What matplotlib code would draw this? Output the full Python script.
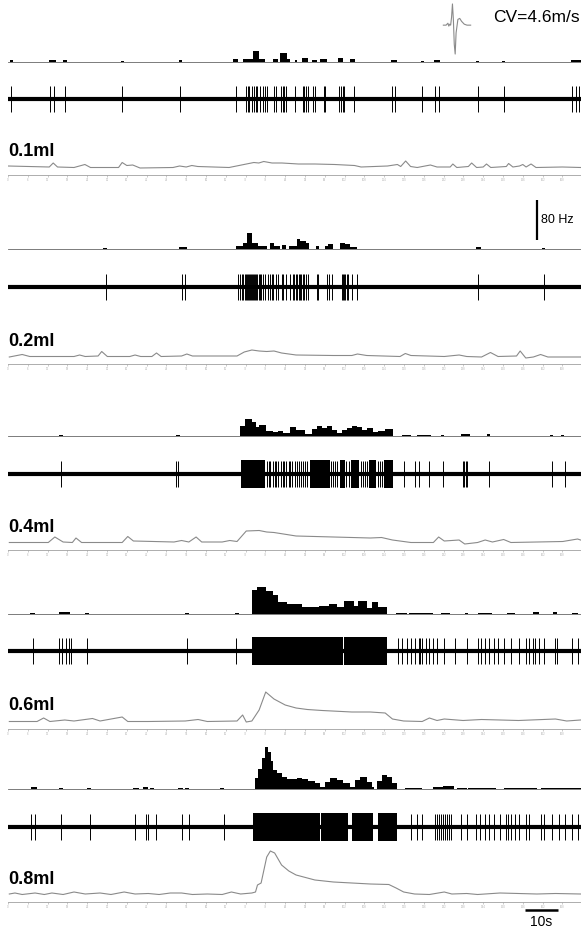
import numpy as np
import matplotlib
matplotlib.use('Agg')
import matplotlib.pyplot as plt

W, H = 581, 930

#======== Data =============================================#
# time axis in seconds, rate in Hz, pressure in (arbitrary) px units

doses = ['0.1ml', '0.2ml', '0.4ml', '0.6ml', '0.8ml']

# --- firing-rate histograms (bin edges [s], rate [Hz]) ---
hist_edges_01 = [0.5, 1.5, 12.5, 14.5, 16.8, 17.8, 34.2, 35.2, 51.7, 52.7, 68.3, 69.8, 71.3, 74.3, 76.2,
                 77.9, 80.4, 81.9, 82.4, 84.6, 85.5, 87.0, 87.7, 89.0, 91.0, 92.0, 93.5, 94.5, 96.6,
                 100.1, 101.6, 103.6, 105.2, 116.0, 117.8, 125.0, 126.0, 129.0, 131.0, 141.8, 142.8,
                 149.7, 150.7, 170.5, 173.5]
hist_hz_01 = [3, 0, 3, 0, 3, 0, 2, 0, 3, 0, 5, 0, 5, 22, 5, 0, 5, 0, 17, 5, 0, 3, 0, 7, 0, 3, 0, 5, 0, 7,
              0, 6, 0, 3, 0, 2, 0, 3, 0, 2, 0, 2, 0, 3]

hist_edges_02 = [28.8, 30.0, 51.8, 54.2, 69.1, 71.3, 72.3, 73.8, 75.9, 78.4, 79.4, 80.6, 82.4, 83.0, 84.2,
                 85.0, 87.5, 88.5, 90.3, 91.2, 93.3, 94.3, 96.0, 97.0, 98.4, 100.6, 102.0, 103.6, 105.8,
                 141.8, 143.2, 161.8, 162.8]
hist_hz_02 = [2, 0, 4, 0, 5, 11, 31, 11, 5, 0, 12, 5, 0, 7, 0, 5, 19, 15, 11, 0, 5, 0, 5, 9, 0, 12, 9, 4,
              0, 4, 0, 2]

hist_edges_04 = [15.6, 16.6, 50.9, 52.0, 70.3, 71.8, 73.8, 75.1, 76.2, 78.2, 80.4, 81.9, 83.4, 85.5, 87.3,
                 88.5, 90.0, 92.0, 93.5, 95.1, 96.6, 98.1, 99.6, 101.1, 102.6, 104.1, 105.7, 107.2, 108.7,
                 110.5, 112.2, 114.2, 116.8, 119.5, 122.1, 123.8, 128.3, 131.2, 132.2, 137.3, 140.1,
                 145.2, 146.2, 164.3, 165.3, 167.6, 168.6]
hist_hz_04 = [2, 0, 2, 0, 20, 33, 27, 17, 22, 9, 7, 9, 5, 17, 11, 12, 4, 13, 20, 15, 19, 11, 5, 11, 15, 20,
              17, 11, 15, 7, 9, 13, 0, 2, 0, 2, 0, 2, 0, 4, 0, 3, 0, 2, 0, 2]

hist_edges_06 = [6.6, 8.2, 15.5, 18.9, 23.4, 24.5, 53.7, 54.8, 68.8, 69.9, 73.9, 75.6, 78.1, 80.4, 81.9,
                 84.5, 89.0, 94.1, 97.4, 99.7, 101.9, 104.7, 106.2, 108.7, 110.3, 112.0, 114.8, 117.6,
                 121.0, 121.6, 128.9, 131.1, 133.9, 138.4, 139.5, 142.3, 146.8, 151.3, 153.5, 159.1,
                 160.8, 165.3, 166.4, 171.0, 172.6]
hist_hz_06 = [2, 0, 4, 0, 2, 0, 2, 0, 2, 0, 48, 55, 47, 38, 25, 21, 15, 16, 20, 15, 27, 16, 27, 13, 25, 15,
              0, 2, 0, 2, 0, 2, 0, 3, 0, 2, 0, 2, 0, 4, 0, 4, 0, 3]

hist_edges_08 = [7.1, 8.8, 15.5, 16.7, 24.0, 25.0, 38.0, 39.7, 40.8, 42.5, 43.0, 44.1, 51.4, 53.1, 53.7,
                 54.8, 64.3, 65.5, 74.8, 75.9, 76.9, 77.9, 78.9, 79.6, 80.4, 81.4, 82.9, 84.4, 87.5, 89.0,
                 91.0, 93.0, 94.5, 96.1, 97.6, 99.6, 101.6, 103.6, 105.1, 106.7, 108.7, 110.2, 110.9,
                 111.9, 113.2, 114.7, 116.3, 117.8, 120.4, 125.5, 128.9, 131.7, 135.0, 136.2, 139.0,
                 139.5, 148.0, 150.2, 160.3, 161.4, 173.5]
hist_hz_08 = [4, 0, 3, 0, 3, 0, 2, 0, 4, 0, 2, 0, 2, 0, 2, 0, 2, 0, 22, 40, 62, 84, 75, 57, 39, 32, 24, 20,
              23, 20, 17, 12, 5, 15, 22, 19, 12, 4, 19, 25, 15, 5, 0, 17, 29, 25, 13, 0, 2, 0, 5, 6, 0,
              2, 0, 1.5, 0, 2, 0, 1.5]

# --- single-unit spike times [s] and dense burst blocks [s] ---
spikes_01 = [0.9, 12.7, 13.8, 17.2, 34.6, 52.2, 69.1, 72.1, 72.6, 73.1, 73.8, 74.5, 75.2, 75.6, 76.4,
             77.2, 77.9, 78.4, 80.6, 81.2, 82.6, 83.2, 83.7, 84.2, 87.0, 89.3, 89.7, 90.3, 90.9, 92.5,
             93.0, 95.8, 96.2, 100.4, 100.8, 101.4, 101.8, 104.8, 116.5, 117.4, 125.5, 129.5, 130.6,
             142.3, 150.2, 171.0, 172.0, 173.0]
burst_start_01 = []
burst_end_01 = []

spikes_02 = [29.6, 52.6, 53.7, 69.8, 70.3, 70.8, 71.3, 71.7, 72.1, 72.4, 72.7, 73.0, 73.3, 73.6, 73.9,
             74.2, 74.5, 74.8, 75.2, 75.6, 76.0, 76.4, 76.8, 77.4, 77.9, 78.9, 79.4, 79.9, 80.4, 81.2,
             81.9, 82.9, 83.4, 84.2, 85.5, 86.3, 86.8, 87.3, 87.7, 88.1, 88.5, 88.9, 89.3, 89.7, 90.3,
             91.0, 93.5, 94.0, 96.6, 97.4, 98.1, 101.1, 101.4, 101.8, 102.2, 102.6, 103.1, 104.2,
             105.9, 142.3, 162.5]
burst_start_02 = []
burst_end_02 = []

spikes_04 = [16.1, 50.9, 51.4, 78.4, 79.0, 79.5, 80.2, 80.8, 81.3, 81.9, 82.6, 83.2, 83.7, 84.3, 85.0,
             85.6, 86.2, 86.9, 87.5, 88.2, 88.8, 89.5, 90.0, 90.5, 97.9, 98.5, 99.1, 99.8, 102.5,
             103.2, 107.0, 107.6, 108.3, 108.9, 112.0, 112.6, 113.2, 119.9, 123.2, 124.4, 127.7,
             131.7, 137.8, 138.3, 138.8, 139.2, 145.7, 164.8, 168.7]
burst_start_04 = [70.5, 91.6, 100.5, 104.0, 109.5, 113.8]
burst_end_04 = [77.9, 97.5, 102.0, 106.5, 111.5, 116.6]

spikes_06 = [7.5, 15.5, 16.5, 17.5, 18.5, 19.0, 23.9, 54.2, 69.2, 118.2, 119.3, 121.0, 122.1, 123.3,
             124.4, 124.9, 125.5, 126.6, 127.7, 128.9, 130.0, 132.2, 135.6, 139.0, 142.3, 143.4,
             144.6, 145.7, 147.4, 148.5, 150.2, 152.4, 154.7, 156.9, 158.0, 159.2, 159.7, 160.8,
             162.5, 165.9, 166.4, 170.9, 172.6]
burst_start_06 = [73.9, 90.7, 94.0, 101.7]
burst_end_06 = [90.55, 93.85, 101.55, 114.8]

spikes_08 = [7.1, 8.2, 16.1, 24.8, 38.5, 41.9, 42.5, 44.7, 52.6, 54.8, 65.5, 122.1, 123.8, 125.5, 129.4,
             130.0, 130.5, 131.2, 131.8, 132.5, 133.1, 133.6, 134.2, 137.3, 139.0, 141.8, 142.9, 144.6,
             145.7, 147.4, 149.1, 150.8, 151.5, 152.4, 153.5, 154.7, 156.9, 158.0, 161.4, 162.5,
             164.8, 167.0, 168.7, 170.9, 172.6]
burst_start_08 = [74.2, 94.7, 104.2, 112.0]
burst_end_08 = [94.45, 103.1, 110.7, 117.9]

# --- pressure traces (time [s], height above resting level) ---
press_t_01 = [0, 12.5, 13.7, 15.0, 20.0, 23.3, 25.0, 33.5, 34.6, 36.0, 37.8, 40.0, 50.0, 52.0, 54.0, 55.7,
              57.5, 67.0, 70.0, 74.5, 76.0, 77.5, 80.0, 83.0, 88.0, 93.0, 99.0, 105.0, 107.0, 115.0,
              118.0, 119.0, 120.5, 122.0, 124.0, 128.0, 130.0, 134.0, 134.8, 136.0, 139.5, 140.5,
              142.0, 144.0, 145.0, 146.3, 151.0, 151.7, 153.0, 155.0, 156.0, 157.0, 158.5, 160.0,
              168.0, 173.6]
press_v_01 = [2, 1, 5, 1, 0.5, 3.5, 0.5, 0.5, 5.5, 2.5, 3, 0, 0.5, 2, 1, 2.5, 1.5, 0.5, 2.5, 5.5, 5, 6.5,
              5, 5, 4, 4, 3.5, 2.5, 1, 2, 3.5, 1.5, 7, 1.5, 0.5, 3, 1, 1, 4, 0.5, 1.5, 5, 0.5, 1, 4,
              0.5, 1.5, 4.5, 1, 2, 3.5, 1, 4, 0.5, 1, 0.5]

press_t_02 = [0.4, 4.3, 6.6, 20.0, 21.7, 23.4, 27.3, 28.4, 30.1, 36.9, 38.5, 40.2, 43.6, 45.0, 46.4, 52.6,
              54.2, 55.9, 69.4, 71.6, 73.9, 76.1, 78.4, 80.6, 82.9, 87.3, 98.6, 104.2, 105.9, 108.7,
              118.8, 120.4, 122.1, 132.2, 136.7, 139.0, 143.5, 146.2, 148.5, 154.1, 155.2, 156.9,
              159.2, 161.4, 163.6, 173.5]
press_v_02 = [0, 2.5, 0.5, 0.5, 2, 0.5, 1, 5.5, 0.5, 0.5, 2, 0.5, 0.5, 4, 0.5, 1, 3, 1, 1, 5, 7, 6, 5.5,
              6, 4, 2, 1.5, 1.5, 3, 1.5, 0.5, 3.5, 1.5, 0.5, 2, 0.5, 0, 4.5, 0.5, 1, 6, -1, 0, 2.5, 0, 0]

press_t_04 = [0.4, 12.2, 14.2, 16.7, 19.5, 20.6, 22.3, 34.6, 36.3, 38.0, 50.3, 52.6, 54.8, 57.0, 58.7,
              64.9, 67.2, 69.4, 72.2, 76.1, 78.4, 80.6, 87.3, 93.0, 98.6, 104.2, 109.8, 113.2, 116.5,
              122.1, 128.9, 130.5, 132.2, 136.7, 138.4, 142.3, 144.6, 146.8, 150.2, 152.4, 160.3,
              168.1, 172.6, 173.5]
press_v_04 = [0.5, 0.5, 6, 1, 0.5, 5, 0.5, 0.5, 6.5, 2, 1, 2.5, 1, 6, 1, 1, 2.5, 1.5, 12, 12.5, 11, 10.5,
              7, 6.5, 6, 5.5, 5, 5.5, 3, 0.5, 0.5, 6, 2, 3, -1, 0.5, 3, 1, 3.5, 0.5, 1, 1.5, 4, 3]

press_t_06 = [0.4, 8.8, 10.8, 12.7, 17.2, 20.0, 25.6, 27.9, 34.6, 36.3, 42.5, 53.7, 57.6, 60.4, 69.4,
              71.1, 72.2, 73.9, 76.1, 78.1, 80.6, 84.0, 87.3, 90.7, 95.2, 104.2, 109.8, 114.3, 116.5,
              119.9, 125.5, 127.7, 130.0, 132.2, 137.9, 143.5, 154.7, 165.9, 169.3, 173.5]
press_v_06 = [0.5, 0.5, 4, 0.5, 2, 1, 3.5, 1, 5, 0.5, 0.5, 1, 2.5, 0.5, 1, 7, 0, 1, 12, 30, 23, 17, 14,
              12.5, 11.5, 10, 10, 9, 3, 1, 0.5, 4, 1.5, 3, 1.5, 2.5, 1.5, 3, 1, 2]

press_t_08 = [0.4, 2.1, 4.3, 8.2, 11.0, 13.3, 16.7, 20.0, 23.4, 27.9, 31.2, 35.2, 38.5, 42.5, 45.8, 49.2,
              52.6, 55.9, 60.4, 64.9, 67.7, 70.5, 73.9, 75.0, 75.6, 76.7, 78.4, 79.5, 80.8, 82.9, 85.1,
              87.3, 93.0, 98.6, 104.2, 109.8, 115.4, 117.6, 119.9, 123.2, 127.7, 132.2, 134.5, 139.0,
              142.3, 149.1, 154.7, 160.3, 165.9, 173.5]
press_v_08 = [1, 2, 0.5, 2, 0.5, 2, 0.5, 3, 1, 2, 0.5, 3, 1, 1.5, 0.5, 2, 2, 0.5, 1, 0.5, 3, 1, 2, 3, 10,
              12, 38, 44, 42, 30, 24, 20, 15, 13, 12, 11, 10.5, 7, 3, 1, 0.5, 3, 1, 1.5, 0.5, 2, 1.5, 1,
              1.5, 1]

# --- averaged action potential (inset, top right) ---
wave_t = [0, 3, 5, 6, 7, 8, 9, 10, 11, 12, 13, 14, 16, 18, 20, 23, 26, 30]
wave_v = [0, 0, 2, -1, 1, 0, 8, 22, 6, -20, -30, -8, 6, 7, 4, 1, 0, 0]

#======== Layout (pixel rows of each panel) ================#
# (histogram baseline, spike trace centre, pressure resting level)
rows = [(62, 99, 168), (249, 287, 357), (436, 474, 543), (614, 651, 722), (789, 827, 895)]

panels = [
    (hist_edges_01, hist_hz_01, spikes_01, burst_start_01, burst_end_01, press_t_01, press_v_01),
    (hist_edges_02, hist_hz_02, spikes_02, burst_start_02, burst_end_02, press_t_02, press_v_02),
    (hist_edges_04, hist_hz_04, spikes_04, burst_start_04, burst_end_04, press_t_04, press_v_04),
    (hist_edges_06, hist_hz_06, spikes_06, burst_start_06, burst_end_06, press_t_06, press_v_06),
    (hist_edges_08, hist_hz_08, spikes_08, burst_start_08, burst_end_08, press_t_08, press_v_08),
]

X0, XW = 8, 573
T_MAX = XW / 3.3   # 3.3 px per second


def px_axes(fig, x, top, w, h):
    ax = fig.add_axes([x / W, 1 - (top + h) / H, w / W, h / H])
    ax.patch.set_alpha(0)
    for s in ax.spines.values():
        s.set_visible(False)
    ax.set_xticks([])
    ax.set_yticks([])
    ax.set_xlim(0, T_MAX)
    return ax


fig = plt.figure(figsize=(W / 100, H / 100), dpi=100)
plt.rcParams['font.family'] = ['Liberation Sans', 'DejaVu Sans']

axes_hist = []
axes_press = []
for i, (edges, hz, spk, b0, b1, pt, pv) in enumerate(panels):
    hb, sc, pb = rows[i]

    # rate histogram: 2 Hz per px
    ah = px_axes(fig, X0, hb - 58, XW, 60)
    ah.set_ylim(-4, 116)
    ah.axhline(0, color='#666666', lw=0.6)
    ah.stairs(hz, edges, fill=True, color='black', baseline=0)
    axes_hist.append(ah)

    # raw unit recording
    asp = px_axes(fig, X0, sc - 20, XW, 40)
    asp.set_ylim(-20, 20)
    asp.axhline(0, color='black', lw=3.0)
    asp.vlines(spk, -13, 13, color='black', lw=0.7)
    if b0:
        asp.bar(b0, 28, width=np.array(b1) - np.array(b0), bottom=-14, align='edge',
                color='black', lw=0)

    # pressure trace with its small time axis
    ap = px_axes(fig, X0, pb - 60, XW, 90)
    ap.set_ylim(-30, 60)
    ap.plot(pt, pv, color='#8a8a8a', lw=0.8)
    ap.spines['bottom'].set_visible(True)
    ap.spines['bottom'].set_position(('data', -7))
    ap.spines['bottom'].set_color('#a0a0a0')
    ap.spines['bottom'].set_linewidth(0.6)
    ticks = np.arange(0, T_MAX, 6)
    ap.set_xticks(ticks)
    ap.set_xticklabels([f'{int(t)}' for t in ticks])
    ap.tick_params(axis='x', length=1.5, width=0.4, color='#a0a0a0', labelsize=2,
                   labelcolor='#b0b0b0', pad=1)
    ap.text(0, 16, doses[i], fontsize=13, fontweight='bold', ha='left', va='center')
    axes_press.append(ap)

# 80 Hz scale bar
axes_hist[1].plot([160.3, 160.3], [18, 98], color='black', lw=1.6, solid_capstyle='butt')
axes_hist[1].text(161.6, 58, '80 Hz', fontsize=9, ha='left', va='center')

# 10 s scale bar
axes_press[4].plot([156.7, 166.7], [-15, -15], color='black', lw=1.8, solid_capstyle='butt')
axes_press[4].text(161.7, -27, '10s', fontsize=10, ha='center', va='center')

# averaged spike waveform + conduction velocity
aw = fig.add_axes([442 / W, 1 - 55 / H, 30 / W, 52 / H])
aw.patch.set_alpha(0)
aw.axis('off')
aw.plot(wave_t, wave_v, color='#8a8a8a', lw=0.8)
aw.set_ylim(-31, 23)
fig.text(493 / W, 1 - 18 / H, 'CV=4.6m/s', fontsize=12.5, ha='left', va='center')

plt.savefig('out.png', dpi=100)
